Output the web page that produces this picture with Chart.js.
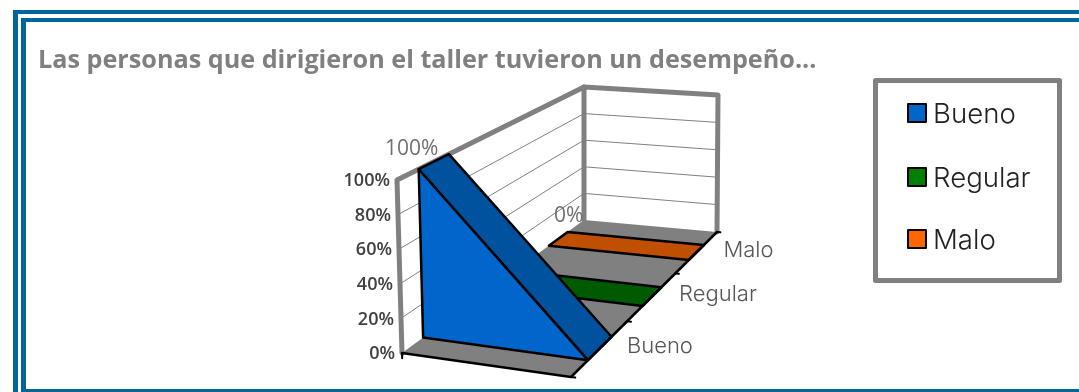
<!DOCTYPE html>
<html>
<head>
<meta charset="utf-8">
<title>Desempeño del taller</title>
<script src="https://cdn.jsdelivr.net/npm/chart.js@4"></script>
<style>
  html, body { margin: 0; background: #fff; overflow: hidden; }
  #lienzo { position: relative; width: 1079px; height: 392px; }
  #lienzo canvas { position: absolute; left: 0; top: 0; }
  .marco { position: absolute; background: #006699; }
</style>
</head>
<body>
<div id="lienzo">
  <div class="marco" style="left:13px;top:10px;right:0;height:4px"></div>
  <div class="marco" style="left:13px;top:10px;width:5px;bottom:0"></div>
  <div class="marco" style="left:21px;top:18px;right:0;height:4px"></div>
  <div class="marco" style="left:21px;top:18px;width:5px;bottom:0"></div>
  <div class="marco" style="left:21px;top:389px;right:0;height:3px"></div>
  <canvas id="grafico" width="1079" height="392"></canvas>
</div>
<script>
const TITULO = 'Las personas que dirigieron el taller tuvieron un desempeño...';
const SERIES = ['Bueno', 'Regular', 'Malo'];
const bueno = [100, 0];
const regular = [0, 0];
const malo = [0, 0];
const VALORES = [bueno, regular, malo];
const TICKS = [0, 20, 40, 60, 80, 100];
const COLOR_FRENTE = ['#0066cc', '#008000', '#ff6600'];
const COLOR_ARRIBA = ['#00519e', '#005a00', '#c04f00'];

// caja 3D en pixeles: esquinas del piso y del techo
const PISO = { fi: [402, 353], fd: [571, 377], ti: [584, 220], td: [717, 232] };
const TECHO = { fi: [397, 180], fd: [563, 200], ti: [584, 87], td: [718, 95] };
const FUGA = 0.8;
const FRANJAS = [[0.095, 0.235], [0.435, 0.565], [0.77, 0.89]];
const GRIS = '#808080';

function lerp(a, b, t) { return a + (b - a) * t; }

// u: 0..1 a lo ancho, d: 0..1 en profundidad, v: 0..100
function proyectar(u, d, v) {
  const f = d / (d + FUGA * (1 - d));
  const punto = (c, i) => lerp(lerp(c.fi[i], c.fd[i], u), lerp(c.ti[i], c.td[i], u), f);
  const h = v / 100;
  return {
    x: lerp(punto(PISO, 0), punto(TECHO, 0), h),
    y: lerp(punto(PISO, 1), punto(TECHO, 1), h)
  };
}

function poligono(puntos, relleno, borde, ancho) {
  const data = puntos.map(p => proyectar(p[0], p[1], p[2]));
  if (relleno) data.push(data[0]);
  return {
    data: data,
    showLine: true,
    tension: 0,
    pointRadius: 0,
    borderColor: borde || 'transparent',
    borderWidth: ancho === undefined ? 0 : ancho,
    backgroundColor: relleno || 'transparent',
    fill: relleno ? 'shape' : false,
    borderCapStyle: 'round',
    borderJoinStyle: 'round'
  };
}

// se arma de atras hacia adelante
const capas = [];
TICKS.slice(1, -1).forEach(t => {
  capas.push(poligono([[0, 0, t], [0, 1, t], [1, 1, t]], null, GRIS, 1));
});
capas.push(poligono([[0, 0, 0], [1, 0, 0], [1, 1, 0], [0, 1, 0]], GRIS));
capas.push(poligono([[0, 0, 0], [0, 0, 100], [0, 1, 100], [1, 1, 100], [1, 1, 0]], null, GRIS, 5));
capas.push(poligono([[0, 1, 100], [0, 1, 0]], null, GRIS, 5));

for (let s = SERIES.length - 1; s >= 0; s--) {
  const [d0, d1] = FRANJAS[s];
  const [a, b] = VALORES[s];
  capas.push(poligono([[0, d0, a], [1, d0, b], [1, d1, b], [0, d1, a]], COLOR_ARRIBA[s], '#000', 2.5));
  if (a > 0 || b > 0) {
    capas.push(poligono([[0, d0, 0], [0, d0, a], [1, d0, b], [1, d0, 0]], COLOR_FRENTE[s], '#000', 2.5));
  }
}
capas.push(poligono([[0, 0, 0], [1, 0, 0], [1, 1, 0]], null, '#000', 2.5));
// marcas de los ejes
capas.push(poligono([[0, 0, 0], [0, 0, -3]], null, '#000', 2));
[0, 1 / 3, 2 / 3, 1].forEach(d => {
  capas.push(poligono([[1, d, 0], [1.025, d, 0]], null, '#000', 2));
});

const textos = {
  id: 'textos',
  afterDraw(chart) {
    const ctx = chart.ctx;
    const px = p => ({ x: chart.scales.x.getPixelForValue(p.x), y: chart.scales.y.getPixelForValue(p.y) });
    ctx.save();
    ctx.textBaseline = 'middle';

    ctx.textAlign = 'left';
    ctx.fillStyle = '#808080';
    ctx.font = 'bold 25.2px "Open Sans"';
    ctx.fillText(TITULO, 38, 61);

    // eje de valores
    ctx.textAlign = 'right';
    ctx.fillStyle = '#404040';
    ctx.font = '600 18px "Open Sans"';
    TICKS.forEach(t => {
      const p = px(proyectar(0, 0, t));
      ctx.fillText(t + '%', p.x - 7, p.y + 1);
    });

    // etiquetas de datos
    ctx.textAlign = 'center';
    ctx.fillStyle = '#707070';
    ctx.font = '400 21px "Open Sans"';
    let p = px(proyectar(0, FRANJAS[0][0], bueno[0]));
    ctx.fillText(bueno[0] + '%', p.x - 7, p.y - 20);
    p = px(proyectar(0, FRANJAS[2][1], malo[0]));
    ctx.fillText(malo[0] + '%', p.x + 1, p.y - 16);

    // eje de series
    ctx.textAlign = 'left';
    ctx.fillStyle = '#555';
    ctx.font = '300 22px Inter';
    SERIES.forEach((nombre, i) => {
      const q = px(proyectar(1, (FRANJAS[i][0] + FRANJAS[i][1]) / 2, 0));
      ctx.fillText(nombre, q.x + 27, q.y - 2);
    });

    // leyenda
    ctx.lineWidth = 5;
    ctx.lineJoin = 'round';
    ctx.strokeStyle = GRIS;
    ctx.strokeRect(875.5, 80.5, 184, 200);
    ctx.font = '300 27.6px Inter';
    const filas = [113, 177, 239];
    SERIES.forEach((nombre, i) => {
      ctx.fillStyle = COLOR_FRENTE[i];
      ctx.fillRect(908, filas[i] - 9, 18, 18);
      ctx.lineWidth = 2;
      ctx.strokeStyle = '#000';
      ctx.strokeRect(908, filas[i] - 9, 18, 18);
      ctx.fillStyle = '#222';
      ctx.fillText(nombre, 933, filas[i] + 2);
    });
    ctx.restore();
  }
};

new Chart(document.getElementById('grafico'), {
  type: 'scatter',
  data: { datasets: capas.reverse() },
  options: {
    responsive: false,
    animation: false,
    layout: { padding: 0 },
    events: [],
    plugins: { legend: { display: false }, tooltip: { enabled: false } },
    scales: {
      x: { type: 'linear', min: 0, max: 1079, display: false },
      y: { type: 'linear', min: 0, max: 392, reverse: true, display: false }
    }
  },
  plugins: [textos]
});
</script>
</body>
</html>
